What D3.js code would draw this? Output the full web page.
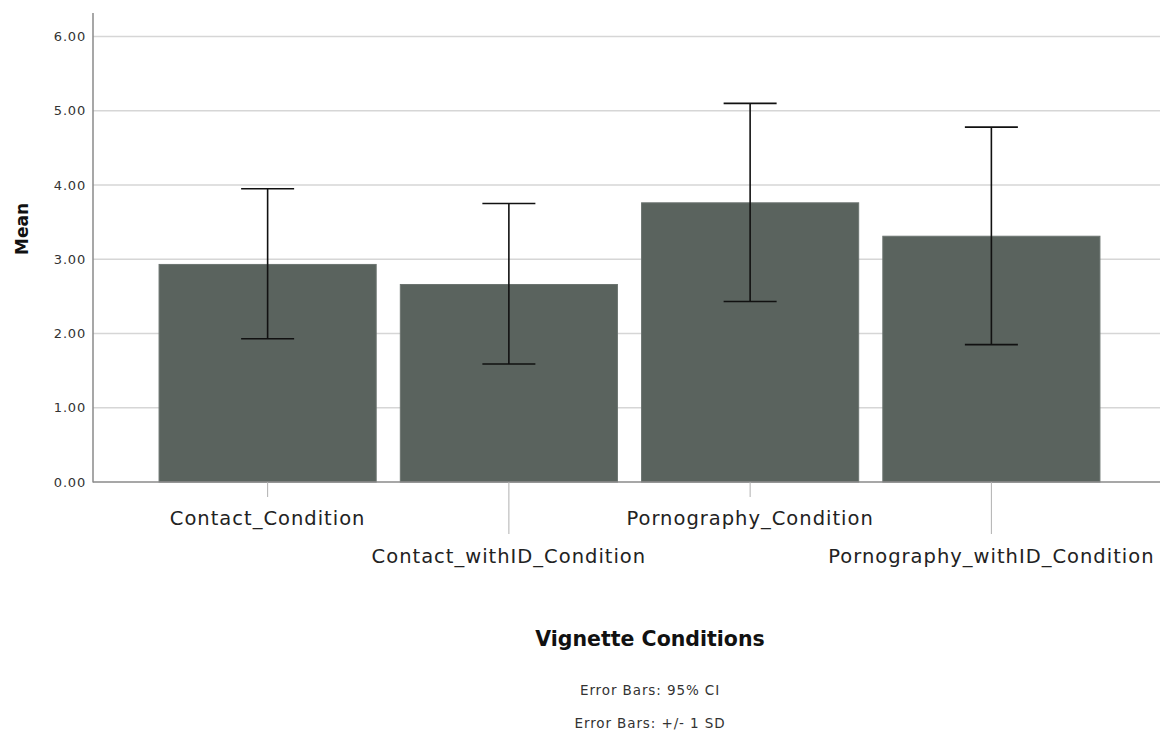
<!DOCTYPE html>
<html><head><meta charset="utf-8">
<script src="https://cdn.jsdelivr.net/npm/d3@7"></script>
<style>body{margin:0;background:#fff}svg{display:block}</style>
</head><body>
<svg id="chart" width="1166" height="733"></svg>
<script>
const categories = ["Contact_Condition","Contact_withID_Condition","Pornography_Condition","Pornography_withID_Condition"];
const means = [2.93, 2.66, 3.76, 3.31];
const errLow = [1.93, 1.59, 2.43, 1.85];
const errHigh = [3.95, 3.75, 5.10, 4.78];
const yTicks = [0,1,2,3,4,5,6];

const svg = d3.select("#chart");
const x = d3.scaleBand().domain(categories).range([147,1112]).paddingInner(0.1).paddingOuter(0.05);
const y = d3.scaleLinear().domain([0,6]).range([482,36.5]);
const axisLeftX = 93, plotRight = 1160;

// gridlines
svg.append("g").selectAll("line").data(yTicks.filter(d=>d>0)).join("line")
  .attr("x1",axisLeftX).attr("x2",plotRight).attr("y1",d=>y(d)).attr("y2",d=>y(d))
  .attr("stroke","#d6d6d6").attr("stroke-width",1.5);

// y axis
const yAxis = d3.axisLeft(y).tickValues(yTicks).tickFormat(d3.format(".2f")).tickSize(0).tickPadding(7);
const gy = svg.append("g").attr("transform",`translate(${axisLeftX},0)`).call(yAxis);
gy.select(".domain").remove();
gy.selectAll("text").attr("font-family","DejaVu Sans").attr("font-size",13).attr("letter-spacing","0.8px").attr("fill","#333");
svg.append("line").attr("x1",axisLeftX).attr("x2",axisLeftX).attr("y1",13).attr("y2",482.5)
  .attr("stroke","#8a8a8a").attr("stroke-width",1.5);

// bars
svg.append("g").selectAll("rect").data(categories).join("rect")
  .attr("x",d=>x(d)).attr("width",x.bandwidth())
  .attr("y",(d,i)=>y(means[i])).attr("height",(d,i)=>y(0)-y(means[i]))
  .attr("fill","#5a635e").attr("stroke","#6c7470").attr("stroke-width",1);

// x axis baseline
svg.append("line").attr("x1",axisLeftX).attr("x2",plotRight).attr("y1",482).attr("y2",482)
  .attr("stroke","#8a8a8a").attr("stroke-width",1.5);

// x ticks (staggered)
const gx = svg.append("g");
gx.selectAll("line").data(categories).join("line")
  .attr("x1",d=>x(d)+x.bandwidth()/2).attr("x2",d=>x(d)+x.bandwidth()/2)
  .attr("y1",482).attr("y2",(d,i)=>i%2===0?497:534)
  .attr("stroke","#b0b0b0").attr("stroke-width",1);
gx.selectAll("text").data(categories).join("text")
  .attr("x",d=>x(d)+x.bandwidth()/2)
  .attr("y",(d,i)=>i%2===0?525:563)
  .attr("text-anchor","middle").attr("font-family","DejaVu Sans").attr("font-size",19.5)
  .attr("letter-spacing","1px").attr("fill","#222").text(d=>d);

// error bars
const cap = 26.5;
const eg = svg.append("g").attr("stroke","#111").attr("stroke-width",1.6);
categories.forEach((c,i)=>{
  const cx = x(c)+x.bandwidth()/2;
  eg.append("line").attr("x1",cx).attr("x2",cx).attr("y1",y(errHigh[i])).attr("y2",y(errLow[i]));
  eg.append("line").attr("x1",cx-cap).attr("x2",cx+cap).attr("y1",y(errHigh[i])).attr("y2",y(errHigh[i]));
  eg.append("line").attr("x1",cx-cap).attr("x2",cx+cap).attr("y1",y(errLow[i])).attr("y2",y(errLow[i]));
});

// axis titles
svg.append("text").attr("transform","translate(28,229) rotate(-90)").attr("text-anchor","middle")
  .attr("font-family","DejaVu Sans").attr("font-weight","bold").attr("font-size",17).attr("fill","#111").text("Mean");
svg.append("text").attr("x",650).attr("y",646).attr("text-anchor","middle")
  .attr("font-family","DejaVu Sans").attr("font-weight","bold").attr("font-size",20.5).attr("fill","#111").text("Vignette Conditions");
svg.append("text").attr("x",650).attr("y",695).attr("text-anchor","middle")
  .attr("font-family","DejaVu Sans").attr("font-size",13.5).attr("letter-spacing","0.9px").attr("fill","#333").text("Error Bars: 95% CI");
svg.append("text").attr("x",650).attr("y",728).attr("text-anchor","middle")
  .attr("font-family","DejaVu Sans").attr("font-size",13.5).attr("letter-spacing","0.9px").attr("fill","#333").text("Error Bars: +/- 1 SD");
</script>
</body></html>
